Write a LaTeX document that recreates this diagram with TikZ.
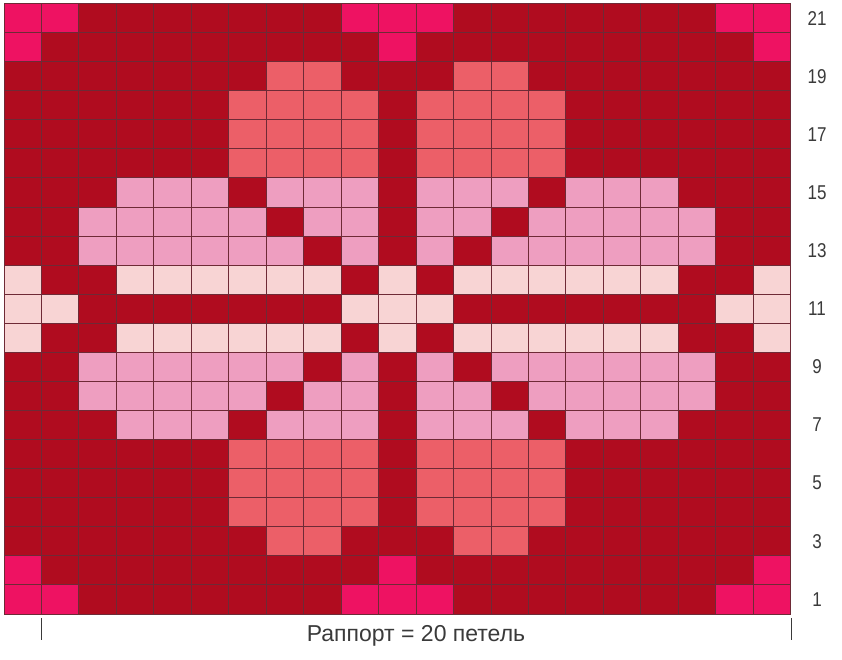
\documentclass[tikz,border=0pt]{standalone}
\usepackage{fontspec}
\setmainfont{Liberation Sans}
\usepackage{graphicx}
\definecolor{dk}{HTML}{B00C1F}
\definecolor{mg}{HTML}{EE1262}
\definecolor{sa}{HTML}{EC5F68}
\definecolor{pk}{HTML}{EE9EC0}
\definecolor{lt}{HTML}{F8D4D4}
\definecolor{gl}{HTML}{6E2A36}
\definecolor{tx}{HTML}{3A3A3A}
\tikzset{
  gridline/.style={draw=gl, line width=0.9pt},
  rowlbl/.style={text=tx, inner sep=0pt, font=\fontsize{20}{20}\selectfont},
  caption/.style={text=tx, inner sep=0pt, font=\fontsize{23}{23}\selectfont},
  ticker/.style={draw=tx, line width=1.4pt}
}
\begin{document}
\begin{tikzpicture}[x=1pt,y=-1pt]
\useasboundingbox (0,0) rectangle (842,659);
\fill[white] (0,0) rectangle (842,659);
\def\W{37.462}\def\H{29.071}\def\XO{4}\def\YO{3.5}
\fill[dk] (\XO,\YO) rectangle ({\XO+21*\W},{\YO+21*\H});
% a/b = column range, r/s = row range (row 1 at bottom)
\foreach \a/\b/\r/\s/\c in {
  0/1/21/21/mg, 0/0/20/20/mg, 9/11/21/21/mg, 10/10/20/20/mg, 19/20/21/21/mg, 20/20/20/20/mg,
  0/1/1/1/mg, 0/0/2/2/mg, 9/11/1/1/mg, 10/10/2/2/mg, 19/20/1/1/mg, 20/20/2/2/mg,
  7/8/19/19/sa, 12/13/19/19/sa, 6/9/16/18/sa, 11/14/16/18/sa,
  7/8/3/3/sa, 12/13/3/3/sa, 6/9/4/6/sa, 11/14/4/6/sa,
  3/5/15/15/pk, 7/9/15/15/pk, 11/13/15/15/pk, 15/17/15/15/pk,
  3/5/7/7/pk, 7/9/7/7/pk, 11/13/7/7/pk, 15/17/7/7/pk,
  2/6/14/14/pk, 8/9/14/14/pk, 11/12/14/14/pk, 14/18/14/14/pk,
  2/6/8/8/pk, 8/9/8/8/pk, 11/12/8/8/pk, 14/18/8/8/pk,
  2/7/13/13/pk, 9/9/13/13/pk, 11/11/13/13/pk, 13/18/13/13/pk,
  2/7/9/9/pk, 9/9/9/9/pk, 11/11/9/9/pk, 13/18/9/9/pk,
  0/0/12/12/lt, 3/8/12/12/lt, 10/10/12/12/lt, 12/17/12/12/lt, 20/20/12/12/lt,
  0/0/10/10/lt, 3/8/10/10/lt, 10/10/10/10/lt, 12/17/10/10/lt, 20/20/10/10/lt,
  0/1/11/11/lt, 9/11/11/11/lt, 19/20/11/11/lt}
  \fill[\c] ({\XO+\a*\W},{\YO+(21-\s)*\H}) rectangle ({\XO+(\b+1)*\W},{\YO+(22-\r)*\H});
\foreach \i in {0,...,21} {
  \draw[gridline] ({\XO+\i*\W},\YO) -- ({\XO+\i*\W},{\YO+21*\H});
  \draw[gridline] (\XO,{\YO+\i*\H}) -- ({\XO+21*\W},{\YO+\i*\H});
}
\foreach \r in {1,3,...,21}
  \node[rowlbl] (row\r) at (817,{\YO+(21.5-\r)*\H}) {\scalebox{0.85}[1]{\r}};
\node[caption] (rapport) at (416,636) {Раппорт = 20 петель};
\coordinate (tickLa) at (41.7,618);
\coordinate (tickLb) at (41.7,640);
\coordinate (tickRa) at (791.5,618);
\coordinate (tickRb) at (791.5,640);
\draw[ticker] (tickLa) -- (tickLb);
\draw[ticker] (tickRa) -- (tickRb);
\end{tikzpicture}
\end{document}
